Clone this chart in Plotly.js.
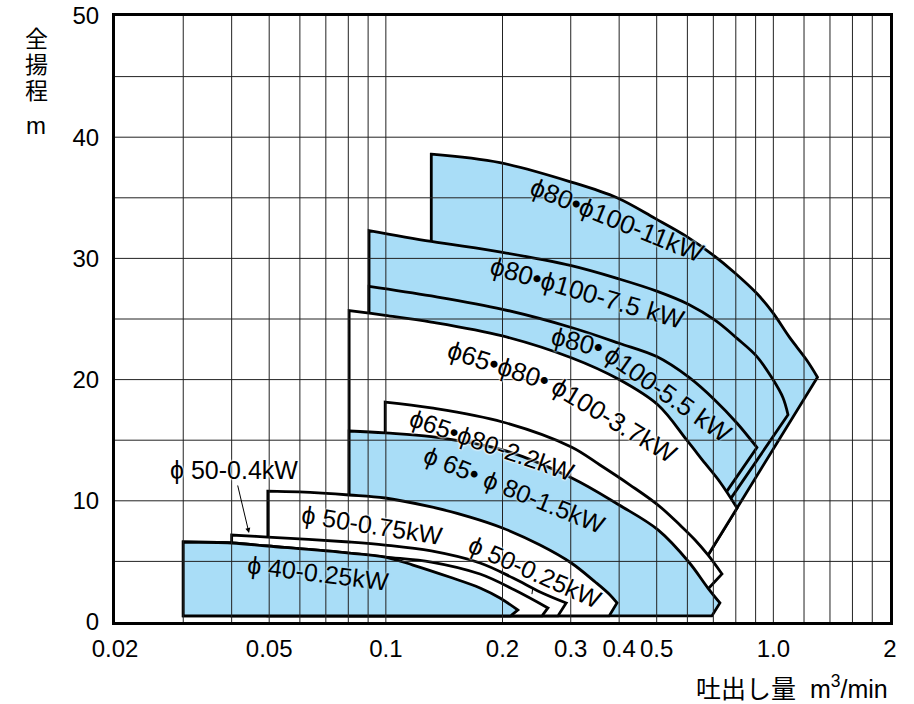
<!DOCTYPE html>
<html><head><meta charset="utf-8">
<script src="https://cdn.plot.ly/plotly-3.0.1.min.js"></script>
<style>html,body{margin:0;padding:0;background:#fff}</style>
</head><body><div id="chart" style="width:914px;height:704px"></div>
<script>
// ---- axis / grid data ----
const xTickVals = [0.02, 0.05, 0.1, 0.2, 0.3, 0.4, 0.5, 1, 2];
const xTickText = ['0.02', '0.05', '0.1', '0.2', '0.3', '0.4', '0.5', '1.0', '2'];
const yTickVals = [0, 10, 20, 30, 40, 50];
const xGridVals = [0.03, 0.04, 0.05, 0.06, 0.07, 0.08, 0.09, 0.1, 0.2, 0.3, 0.4, 0.5, 0.6, 0.7, 0.8, 0.9, 1.0, 1.2, 1.4, 1.6, 1.8];
const yGridVals = [5, 10, 15, 20, 25, 30, 35, 40, 45];
const baseH = 0.5;

// ---- pump ranges: flow Q (m3/min), head H (m) along the upper curve ----
const r11Q = [0.131, 0.197, 0.301, 0.395, 0.495, 0.598, 0.698, 0.796, 0.907, 0.998, 1.10, 1.22, 1.30];
const r11H = [38.6, 37.9, 36.3, 35.0, 33.3, 31.8, 30.3, 28.8, 27.1, 25.5, 23.5, 21.6, 20.2];
const r11End = [0.678, 5.5];

const r75Q = [0.0905, 0.131, 0.200, 0.301, 0.400, 0.500, 0.605, 0.707, 0.806, 0.907, 0.998, 1.059, 1.091];
const r75H = [32.3, 31.4, 30.5, 29.4, 28.3, 27.3, 26.2, 24.9, 23.4, 21.9, 20.0, 18.5, 17.1];
const r75End = [0.777, 10.2];

const r55Q = [0.0905, 0.131, 0.200, 0.301, 0.400, 0.500, 0.605, 0.707, 0.806, 0.907];
const r55H = [27.7, 26.9, 25.8, 24.3, 23.0, 21.9, 20.2, 18.3, 16.4, 14.4];
const r55End = [0.759, 10.8];

const r37Q = [0.0804, 0.0996, 0.131, 0.200, 0.301, 0.400, 0.504, 0.598, 0.666, 0.728, 0.806];
const r37H = [25.7, 25.3, 24.75, 23.6, 21.8, 20.0, 17.9, 15.0, 13.1, 11.55, 9.4];
const r37End = [0.678, 5.5];

const r22Q = [0.0996, 0.131, 0.200, 0.301, 0.357, 0.427, 0.504, 0.574, 0.628, 0.678, 0.737];
const r22H = [18.15, 17.66, 16.5, 14.44, 12.95, 11.3, 9.65, 8.0, 6.77, 5.53, 3.96];
const r22End = [0.682, 2.8];

const r15Q = [0.0804, 0.0996, 0.131, 0.200, 0.301, 0.400, 0.504, 0.605, 0.678, 0.728];
const r15H = [15.76, 15.6, 15.3, 14.2, 11.9, 9.65, 7.6, 4.95, 2.8, 1.57];
const r15End = [0.694, 0.5];

const r075Q = [0.0496, 0.0597, 0.0804, 0.0996, 0.131, 0.165, 0.200, 0.250, 0.301, 0.347, 0.379, 0.395];
const r075H = [10.8, 10.73, 10.48, 10.23, 9.49, 8.66, 7.76, 6.35, 4.87, 3.3, 2.23, 1.57];
const r075End = [0.377, 0.5];

const r04Q = [0.040, 0.0496, 0.0804, 0.0996, 0.131, 0.175, 0.213, 0.250, 0.292];
const r04H = [7.18, 7.01, 6.6, 6.35, 5.86, 4.87, 3.63, 2.48, 1.57];
const r04End = [0.278, 0.5];

const r5025Q = [0.030, 0.040, 0.0496, 0.0804, 0.0996, 0.131, 0.175, 0.215, 0.262];
const r5025H = [6.6, 6.52, 6.27, 5.69, 5.36, 4.95, 3.96, 2.64, 1.16];
const r5025End = [0.253, 0.5];

const r4025Q = [0.030, 0.040, 0.0496, 0.0804, 0.0996, 0.1175, 0.146, 0.175, 0.197, 0.219];
const r4025H = [6.6, 6.52, 6.27, 5.69, 5.36, 4.70, 3.71, 2.81, 1.98, 0.99];
const r4025End = [0.210, 0.5];

const BLUE = '#a9ddf7';
const WHITE = '#ffffff';

const traces = [];
// builds a path; corner points are repeated so the spline stays sharp there
function pathOf(q, h, end, via, closeBottom) {
  const xs = [], ys = [];
  const corner = (x, y) => { xs.push(x, x); ys.push(y, y); };
  corner(q[0], baseH);
  corner(q[0], h[0]);
  for (let i = 1; i < q.length - 1; i++) { xs.push(q[i]); ys.push(h[i]); }
  corner(q[q.length - 1], h[h.length - 1]);
  corner(end[0], end[1]);
  if (via) corner(via[0], via[1]);
  if (closeBottom && ys[ys.length - 1] !== baseH) corner(xs[xs.length - 1], baseH);
  return {xs, ys};
}
function addRegion(q, h, end, via, color) {
  const f = pathOf(q, h, end, via, true);
  traces.push({x: f.xs, y: f.ys, mode: 'lines', fill: 'toself', fillcolor: color,
    line: {width: 0, color: color, shape: 'spline', smoothing: 1, simplify: false},
    hoverinfo: 'skip', showlegend: false});
  const o = pathOf(q, h, end, null, false);
  if (end[1] === baseH) { o.xs.push(q[0]); o.ys.push(baseH); }
  traces.push({x: o.xs, y: o.ys, mode: 'lines',
    line: {width: 2.8, color: '#000', shape: 'spline', smoothing: 1, simplify: false},
    hoverinfo: 'skip', showlegend: false});
}

addRegion(r11Q, r11H, r11End, null, BLUE);
addRegion(r75Q, r75H, r75End, r11End, BLUE);
addRegion(r55Q, r55H, r55End, r11End, BLUE);
addRegion(r37Q, r37H, r37End, null, WHITE);
addRegion(r22Q, r22H, r22End, null, WHITE);
addRegion(r15Q, r15H, r15End, null, BLUE);
addRegion(r075Q, r075H, r075End, null, WHITE);
addRegion(r04Q, r04H, r04End, null, WHITE);
addRegion(r5025Q, r5025H, r5025End, null, WHITE);
addRegion(r4025Q, r4025H, r4025End, null, BLUE);

// grid drawn above fills
const gx = [], gy = [];
xGridVals.forEach(v => { gx.push(v, v, null); gy.push(0, 50, null); });
yGridVals.forEach(v => { gx.push(0.02, 2, null); gy.push(v, v, null); });
traces.push({x: gx, y: gy, mode: 'lines', line: {width: 1, color: '#222'}, hoverinfo: 'skip', showlegend: false});

const F = 'Liberation Sans, Arial, sans-serif';
const CJK = 'Noto Sans CJK JP';
const blueHalo = '0 0 2px #a9ddf7, 0 0 2px #a9ddf7, 0 0 3px #a9ddf7';
const whiteHalo = '0 0 2px #fff, 0 0 2px #fff, 0 0 3px #fff';
function lab(text, x, y, ang, halo, size) {
  return {text: text, xref: 'paper', yref: 'paper', x: x, y: y, showarrow: false,
    textangle: ang, xanchor: 'center', yanchor: 'middle',
    font: {family: F, size: size, color: '#000', shadow: halo}};
}
function plain(text, x, y, fam, size) {
  return {text: text, xref: 'paper', yref: 'paper', x: x, y: y, showarrow: false,
    xanchor: 'center', yanchor: 'middle', font: {family: fam, size: size, color: '#000'}};
}
const annotations = [
  lab('ϕ80•ϕ100-11kW', 0.6477, 0.6634, 22, blueHalo, 26),
  lab('ϕ80•ϕ100-7.5 kW', 0.6103, 0.5429, 16, blueHalo, 26),
  lab('ϕ80•', 0.5974, 0.4620, 14, blueHalo, 26),
  lab('ϕ100-5.5 kW', 0.7135, 0.3762, 35, blueHalo, 26),
  lab('ϕ65•ϕ80•', 0.4942, 0.4241, 18, whiteHalo, 26),
  lab('ϕ100-3.7kW', 0.6439, 0.3333, 31, whiteHalo, 26),
  lab('ϕ65•ϕ80-2.2kW', 0.4865, 0.2921, 19, whiteHalo, 25),
  lab('ϕ 65• ϕ 80-1.5kW', 0.5161, 0.2178, 22, blueHalo, 25),
  lab('ϕ 50-0.75kW', 0.3316, 0.1601, 9, whiteHalo, 25),
  lab('ϕ 40-0.25kW', 0.2619, 0.0809, 7, blueHalo, 25),
  {text: 'ϕ 50-0.25kW', xref: 'paper', yref: 'paper', x: 0.538, y: 0.046, textangle: 24,
    showarrow: true, ax: 3, ay: -22, arrowhead: 0, arrowwidth: 1, arrowcolor: '#000',
    font: {family: F, size: 25, color: '#000', shadow: whiteHalo}},
  {text: 'ϕ 50-0.4kW', xref: 'paper', yref: 'paper', x: 0.1729, y: 0.1469,
    showarrow: true, ax: -15, ay: -63, arrowhead: 2, arrowsize: 1, arrowwidth: 1, arrowcolor: '#000',
    font: {family: F, size: 25, color: '#000', shadow: whiteHalo}},
  plain('全', -0.1019, 0.9653, CJK, 23),
  plain('揚', -0.1019, 0.9224, CJK, 23),
  plain('程', -0.1019, 0.8795, CJK, 23),
  plain('m', -0.1019, 0.8201, F, 24),
  {text: '吐出し量  m<sup>3</sup>/min', xref: 'paper', yref: 'paper', x: 1.0, y: -0.1072,
    xanchor: 'right', yanchor: 'middle', showarrow: false,
    font: {family: 'Liberation Sans, Noto Sans CJK JP', size: 25, color: '#000'}}
];

const layout = {
  width: 914, height: 704,
  margin: {l: 115, r: 24, t: 16, b: 82},
  paper_bgcolor: '#fff', plot_bgcolor: '#fff',
  showlegend: false, hovermode: false,
  xaxis: {type: 'log', range: [Math.log10(0.02), Math.log10(2)], showgrid: false, zeroline: false,
    showline: true, mirror: true, linewidth: 3, linecolor: '#000', ticks: '',
    tickmode: 'array', tickvals: xTickVals, ticktext: xTickText, tickangle: 0,
    ticklabelstandoff: 3, tickfont: {family: F, size: 24, color: '#000'}},
  yaxis: {range: [0, 50], showgrid: false, zeroline: false, showline: true, mirror: true,
    linewidth: 3, linecolor: '#000', ticks: '', tickmode: 'array', tickvals: yTickVals,
    ticklabelstandoff: 8, tickfont: {family: F, size: 24, color: '#000'}},
  annotations: annotations
};
Plotly.newPlot('chart', traces, layout, {displayModeBar: false, staticPlot: true});
</script></body></html>
